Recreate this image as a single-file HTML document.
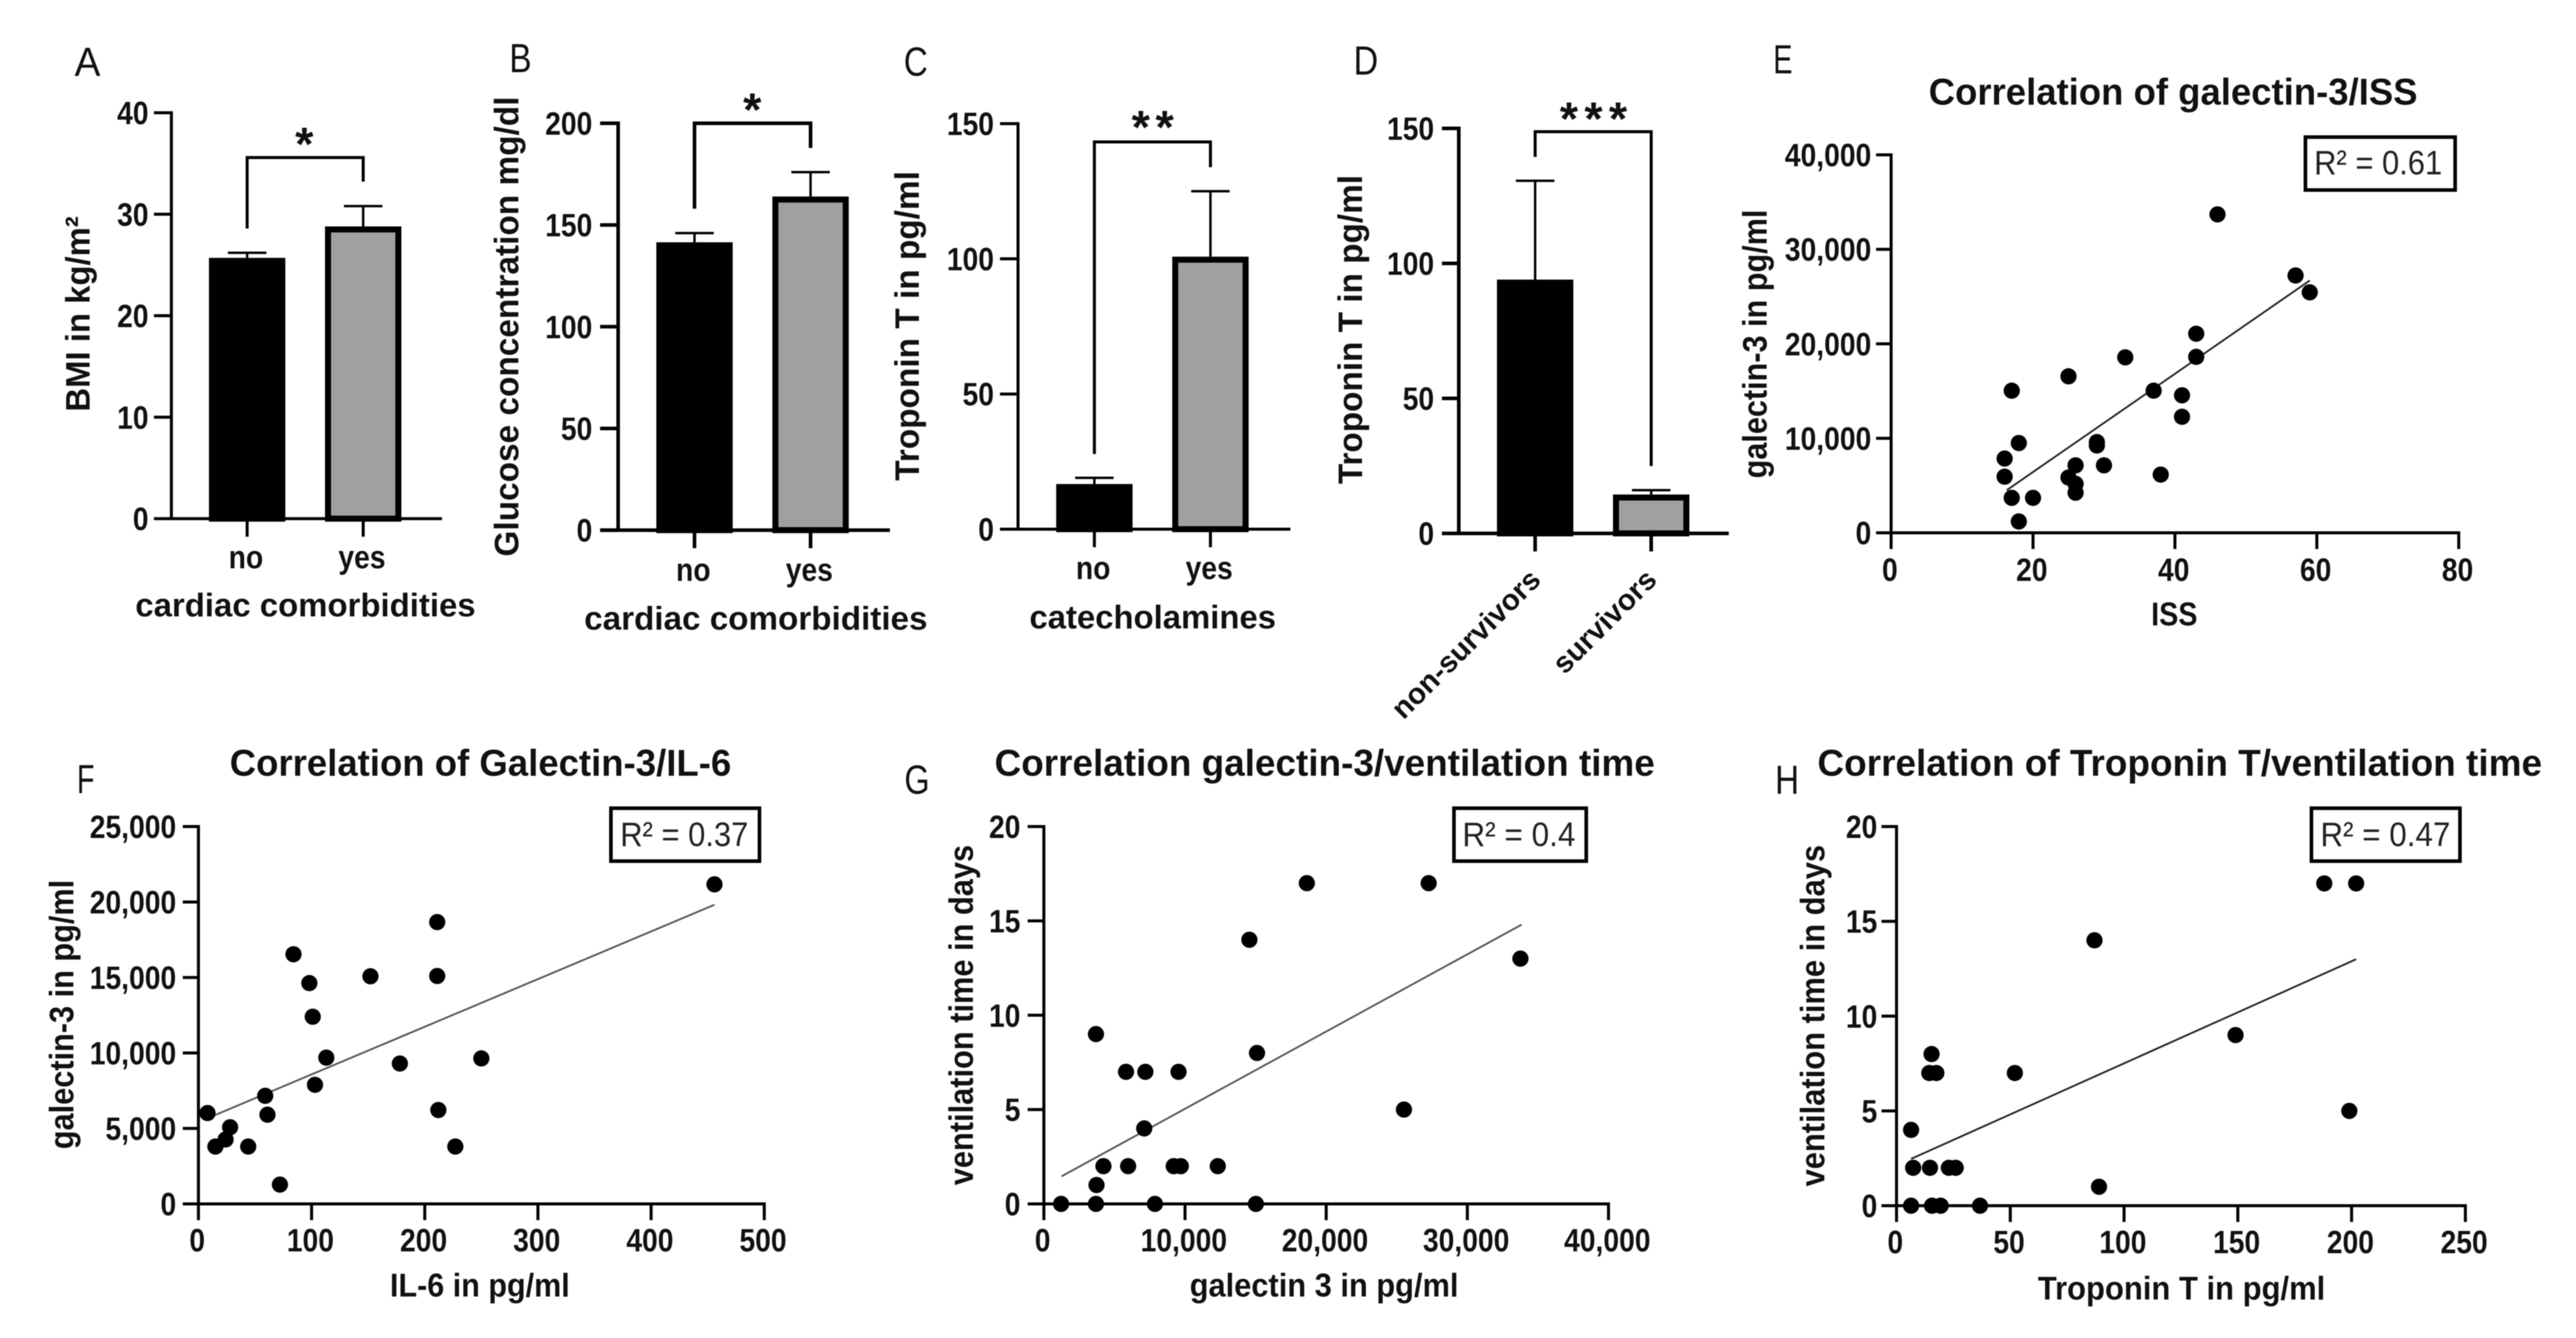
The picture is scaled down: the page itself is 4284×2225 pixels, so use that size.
<!DOCTYPE html>
<html lang="en">
<head>
<meta charset="utf-8">
<title>Galectin-3 and Troponin T figure</title>
<style>
html,body{margin:0;padding:0;background:#fff;}
svg{display:block;filter:blur(0.7px);}
text{font-family:"Liberation Sans",sans-serif;fill:#111;}
.letter{font-size:68px;font-weight:400;}
.ttl{font-size:62px;font-weight:700;}
.xt{font-size:55px;font-weight:700;}
.yt{font-size:57px;font-weight:700;}
.star{font-size:78px;font-weight:700;text-anchor:middle;}
.r2{font-size:57px;font-weight:400;fill:#222;}
.brk{fill:none;stroke:#000;stroke-width:5;}
.box{fill:#fff;stroke:#000;stroke-width:6;}
</style>
</head>
<body>
<svg id="figure" xmlns="http://www.w3.org/2000/svg" width="4284" height="2225" viewBox="0 0 4284 2225">
<rect width="4284" height="2225" fill="#fff"/>

<g id="panel-a">
  <text class="letter" x="124" y="126" textLength="43" lengthAdjust="spacingAndGlyphs">A</text>
  <text class="yt" transform="translate(149,522) rotate(-90)" text-anchor="middle" textLength="325" lengthAdjust="spacingAndGlyphs">BMI in kg/m²</text>
  <text class="xt" x="508" y="1025" text-anchor="middle" textLength="566" lengthAdjust="spacingAndGlyphs">cardiac comorbidities</text>
  <path class="brk" d="M411 380V262H604V302"/>
  <text class="star" x="506" y="266">*</text>
</g>

<g id="panel-b">
  <text class="letter" x="847" y="120" textLength="37" lengthAdjust="spacingAndGlyphs">B</text>
  <text class="yt" transform="translate(862,543) rotate(-90)" text-anchor="middle" textLength="765" lengthAdjust="spacingAndGlyphs">Glucose concentration mg/dl</text>
  <text class="xt" x="1257" y="1047" text-anchor="middle" textLength="571" lengthAdjust="spacingAndGlyphs">cardiac comorbidities</text>
  <path class="brk" style="stroke-width:6" d="M1155 347V205H1348V246"/>
  <text class="star" x="1251" y="209">*</text>
</g>

<g id="panel-c">
  <text class="letter" x="1503" y="126" textLength="40" lengthAdjust="spacingAndGlyphs">C</text>
  <text class="yt" transform="translate(1528,542) rotate(-90)" text-anchor="middle" textLength="515" lengthAdjust="spacingAndGlyphs">Troponin T in pg/ml</text>
  <text class="xt" x="1917" y="1045" text-anchor="middle" textLength="410" lengthAdjust="spacingAndGlyphs">catecholamines</text>
  <path class="brk" d="M1820 755V236H2013V278"/>
  <text class="star" x="1917" y="238" textLength="70">**</text>
</g>

<g id="panel-d">
  <text class="letter" x="2251" y="124" textLength="41" lengthAdjust="spacingAndGlyphs">D</text>
  <text class="yt" transform="translate(2265,548) rotate(-90)" text-anchor="middle" textLength="514" lengthAdjust="spacingAndGlyphs">Troponin T in pg/ml</text>
  <path class="brk" d="M2553 261V219H2746V775"/>
  <text class="star" x="2650" y="224" textLength="112">***</text>
</g>

<g id="panel-e">
  <text class="letter" x="2949" y="122" textLength="32" lengthAdjust="spacingAndGlyphs">E</text>
  <text class="ttl" x="3614" y="174" text-anchor="middle" textLength="813" lengthAdjust="spacingAndGlyphs">Correlation of galectin-3/ISS</text>
  <text class="yt" transform="translate(2938,572) rotate(-90)" text-anchor="middle" textLength="447" lengthAdjust="spacingAndGlyphs">galectin-3 in pg/ml</text>
  <text class="xt" x="3616" y="1040" text-anchor="middle" textLength="77" lengthAdjust="spacingAndGlyphs">ISS</text>
  <rect class="box" x="3834" y="228" width="249" height="88"/>
  <text class="r2" x="3955" y="290" text-anchor="middle" textLength="213" lengthAdjust="spacingAndGlyphs">R² = 0.61</text>
</g>

<g id="panel-f">
  <text class="letter" x="128" y="1319" textLength="29" lengthAdjust="spacingAndGlyphs">F</text>
  <text class="ttl" x="799" y="1290" text-anchor="middle" textLength="834" lengthAdjust="spacingAndGlyphs">Correlation of Galectin-3/IL-6</text>
  <text class="yt" transform="translate(122,1687) rotate(-90)" text-anchor="middle" textLength="448" lengthAdjust="spacingAndGlyphs">galectin-3 in pg/ml</text>
  <text class="xt" x="798" y="2156" text-anchor="middle" textLength="299" lengthAdjust="spacingAndGlyphs">IL-6 in pg/ml</text>
  <rect class="box" x="1016" y="1344" width="247" height="88"/>
  <text class="r2" x="1138" y="1407" text-anchor="middle" textLength="213" lengthAdjust="spacingAndGlyphs">R² = 0.37</text>
</g>

<g id="panel-g">
  <text class="letter" x="1504" y="1320" textLength="42" lengthAdjust="spacingAndGlyphs">G</text>
  <text class="ttl" x="2203" y="1290" text-anchor="middle" textLength="1098" lengthAdjust="spacingAndGlyphs">Correlation galectin-3/ventilation time</text>
  <text class="yt" transform="translate(1618,1688) rotate(-90)" text-anchor="middle" textLength="566" lengthAdjust="spacingAndGlyphs">ventilation time in days</text>
  <text class="xt" x="2202" y="2156" text-anchor="middle" textLength="447" lengthAdjust="spacingAndGlyphs">galectin 3 in pg/ml</text>
  <rect class="box" x="2418" y="1344" width="220" height="88"/>
  <text class="r2" x="2526" y="1407" text-anchor="middle" textLength="188" lengthAdjust="spacingAndGlyphs">R² = 0.4</text>
</g>

<g id="panel-h">
  <text class="letter" x="2952" y="1320" textLength="40" lengthAdjust="spacingAndGlyphs">H</text>
  <text class="ttl" x="3625" y="1290" text-anchor="middle" textLength="1205" lengthAdjust="spacingAndGlyphs">Correlation of Troponin T/ventilation time</text>
  <text class="yt" transform="translate(3034,1689) rotate(-90)" text-anchor="middle" textLength="568" lengthAdjust="spacingAndGlyphs">ventilation time in days</text>
  <text class="xt" x="3628" y="2161" text-anchor="middle" textLength="478" lengthAdjust="spacingAndGlyphs">Troponin T in pg/ml</text>
  <rect class="box" x="3844" y="1344" width="247" height="88"/>
  <text class="r2" x="3967" y="1407" text-anchor="middle" textLength="216" lengthAdjust="spacingAndGlyphs">R² = 0.47</text>
</g>
</svg>

<script>
/* ---------- Bar chart data ---------- */
const panelACategories = ['no', 'yes'];
const panelAMeans = [25.7, 28.8];
const panelAErrorTops = [26.2, 30.8];
const panelAYTicks = [0, 10, 20, 30, 40];

const panelBCategories = ['no', 'yes'];
const panelBMeans = [141.5, 164];
const panelBErrorTops = [146, 176];
const panelBYTicks = [0, 50, 100, 150, 200];

const panelCCategories = ['no', 'yes'];
const panelCMeans = [16.7, 100.8];
const panelCErrorTops = [19, 125];
const panelCYTicks = [0, 50, 100, 150];

const panelDCategories = ['non-survivors', 'survivors'];
const panelDMeans = [94, 14.4];
const panelDErrorTops = [130.6, 16];
const panelDYTicks = [0, 50, 100, 150];

/* ---------- Scatter chart data ---------- */
const panelEXValues = [46, 57, 59, 43, 43, 33, 25, 17, 37, 41, 41, 29, 29, 18, 16, 26, 30, 16, 25, 38, 26, 26, 17, 20, 18];
const panelEYValues = [33700, 27230, 25450, 21070, 18620, 18570, 16560, 15040, 15040, 14550, 12280, 9600, 9240, 9500, 7860, 7140, 7140, 5940, 5850, 6160, 5180, 4240, 3700, 3700, 1200];
const panelEFitX = [16.3, 59];
const panelEFitY = [4510, 26700];
const panelEXTicks = [0, 20, 40, 60, 80];
const panelEYTicks = [0, 10000, 20000, 30000, 40000];

const panelFXValues = [456, 211, 84, 211, 152, 98, 101, 113, 250, 178, 103, 59, 8, 61, 212, 28, 24, 15, 44, 227, 72];
const panelFYValues = [21170, 18670, 16540, 15100, 15080, 14630, 12400, 9690, 9640, 9300, 7890, 7160, 6020, 5910, 6220, 5080, 4270, 3800, 3800, 3800, 1280];
const panelFFitX = [13, 456];
const panelFFitY = [5830, 19820];
const panelFXTicks = [0, 100, 200, 300, 400, 500];
const panelFYTicks = [0, 5000, 10000, 15000, 20000, 25000];

const panelGXValues = [18630, 27260, 14560, 33760, 3690, 15100, 5820, 7190, 9540, 25510, 7110, 4220, 5970, 9200, 9700, 12320, 3730, 1220, 3690, 7870, 15020];
const panelGYValues = [17, 17, 14, 13, 9, 8, 7, 7, 7, 5, 4, 2, 2, 2, 2, 2, 1, 0, 0, 0, 0];
const panelGFitX = [1250, 33840];
const panelGFitY = [1.46, 14.8];
const panelGXTicks = [0, 10000, 20000, 30000, 40000];
const panelGYTicks = [0, 5, 10, 15, 20];

const panelHXValues = [188, 202, 87, 149, 15.4, 14.4, 17.5, 52, 199, 6.4, 7.3, 14.7, 23, 26, 89, 6.4, 15.6, 19.4, 36.7];
const panelHYValues = [17, 17, 14, 9, 8, 7, 7, 7, 5, 4, 2, 2, 2, 2, 1, 0, 0, 0, 0];
const panelHFitX = [6.4, 202];
const panelHFitY = [2.47, 13];
const panelHXTicks = [0, 50, 100, 150, 200, 250];
const panelHYTicks = [0, 5, 10, 15, 20];

/* ---------- Helpers ---------- */
const NS = 'http://www.w3.org/2000/svg';
function make(parent, tag, attrs, content) {
  const node = document.createElementNS(NS, tag);
  for (const key in attrs) node.setAttribute(key, attrs[key]);
  if (content !== undefined) node.textContent = content;
  parent.appendChild(node);
  return node;
}
function linear(d0, d1, r0, r1) {
  return function (v) { return r0 + (v - d0) / (d1 - d0) * (r1 - r0); };
}
function fmt(v) { return v.toLocaleString('en-US'); }
/* Keep the label's width at 47px metrics while drawing taller glyphs, as in the reference. */
function condense(label) {
  const width = label.getComputedTextLength();
  label.setAttribute('textLength', width);
  label.setAttribute('lengthAdjust', 'spacingAndGlyphs');
  label.setAttribute('font-size', 54);
}

function drawYAxis(group, frame, ticks, yScale) {
  const axis = make(group, 'line', {x1: frame.x0, x2: frame.x0, y1: yScale(ticks[ticks.length - 1]) - frame.sw / 2, y2: frame.y0 + frame.axisDrop, stroke: '#000', 'stroke-width': frame.sw});
  
  
  ticks.forEach(function (t) {
    const y = yScale(t);
    const mark = make(group, 'line', {x1: frame.tickLeft, x2: frame.x0, y1: y, y2: y, stroke: '#000', 'stroke-width': frame.sw});
    
    
    const label = make(group, 'text', {x: frame.yLabelRight, y: y + 19, 'text-anchor': 'end', 'font-size': 47, 'font-weight': 700}, fmt(t));
    
    
    condense(label);
  });
}

function drawBarPanel(id, frame, categories, means, errorTops, yTicks) {
  const group = document.getElementById(id);
  const yScale = linear(0, yTicks[yTicks.length - 1], frame.y0, frame.yTop);
  categories.forEach(function (cat, i) {
    const cx = frame.firstX + i * frame.step;
    const errTop = yScale(errorTops[i]);
    const barTop = yScale(means[i]);
    const whisker = make(group, 'line', {x1: cx, x2: cx, y1: barTop, y2: errTop, stroke: '#000', 'stroke-width': 4});
    
    
    const cap = make(group, 'line', {x1: cx - 32, x2: cx + 32, y1: errTop, y2: errTop, stroke: '#000', 'stroke-width': 4});
    
    
    const bar = make(group, 'rect', {x: cx - frame.barW / 2 + 5, y: barTop + 5, width: frame.barW - 10, height: Math.max(0, frame.y0 - barTop - 5), fill: i === 0 ? '#000' : '#a0a0a3', stroke: '#000', 'stroke-width': 10});
    
    
    const mark = make(group, 'line', {x1: cx, x2: cx, y1: frame.y0, y2: frame.y0 + 30, stroke: '#000', 'stroke-width': frame.sw});
    
    
    const attrs = frame.rotated
      ? {transform: 'translate(' + (cx + 12) + ',' + (frame.y0 + 80) + ') rotate(-45)', 'text-anchor': 'end', 'font-size': 49, 'font-weight': 700}
      : {x: cx - 2, y: frame.labelY, 'text-anchor': 'middle', 'font-size': 47, 'font-weight': 700};
    const label = make(group, 'text', attrs, cat);
    
    
    if (!frame.rotated) condense(label);
  });
  drawYAxis(group, frame, yTicks, yScale);
  const baseAxis = make(group, 'line', {x1: frame.tickLeft, x2: frame.xEnd, y1: frame.y0, y2: frame.y0, stroke: '#000', 'stroke-width': frame.sw});
  
  
}

function drawScatterPanel(id, frame, xs, ys, fitX, fitY, xTicks, yTicks) {
  const group = document.getElementById(id);
  const xScale = linear(0, xTicks[xTicks.length - 1], frame.x0, frame.xEnd);
  const yScale = linear(0, yTicks[yTicks.length - 1], frame.y0, frame.yTop);
  drawYAxis(group, frame, yTicks, yScale);
  const baseAxis = make(group, 'line', {x1: frame.tickLeft, x2: frame.xEnd + frame.sw / 2, y1: frame.y0, y2: frame.y0, stroke: '#000', 'stroke-width': frame.sw});
  
  
  xTicks.forEach(function (t) {
    const x = xScale(t);
    const mark = make(group, 'line', {x1: x, x2: x, y1: frame.y0, y2: frame.y0 + 27, stroke: '#000', 'stroke-width': frame.sw});
    
    
    const label = make(group, 'text', {x: x - 2, y: frame.labelY, 'text-anchor': 'middle', 'font-size': 47, 'font-weight': 700}, fmt(t));
    
    
    condense(label);
  });
  const fit = make(group, 'line', {x1: xScale(fitX[0]), y1: yScale(fitY[0]), x2: xScale(fitX[1]), y2: yScale(fitY[1]), stroke: frame.fitColor, 'stroke-width': 3});
  
  
  xs.forEach(function (xv, i) {
    const dot = make(group, 'circle', {cx: xScale(xv), cy: yScale(ys[i]), r: 13.5, fill: '#000'});
    
    
  });
}

/* ---------- Panels ---------- */
drawBarPanel('panel-a', {x0: 285, y0: 862.5, yTop: 187.5, tickLeft: 256, xEnd: 735, firstX: 411, step: 193, barW: 127, sw: 5, labelY: 945, yLabelRight: 247, axisDrop: 0}, panelACategories, panelAMeans, panelAErrorTops, panelAYTicks);
drawBarPanel('panel-b', {x0: 1028, y0: 881.6, yTop: 205, tickLeft: 998, xEnd: 1480, firstX: 1155, step: 193, barW: 127, sw: 6, labelY: 966, yLabelRight: 985, axisDrop: 0}, panelBCategories, panelBMeans, panelBErrorTops, panelBYTicks);
drawBarPanel('panel-c', {x0: 1693, y0: 880, yTop: 205.6, tickLeft: 1663, xEnd: 2146, firstX: 1820, step: 193, barW: 127, sw: 5, labelY: 963, yLabelRight: 1653, axisDrop: 0}, panelCCategories, panelCMeans, panelCErrorTops, panelCYTicks);
drawBarPanel('panel-d', {x0: 2426, y0: 887, yTop: 213.5, tickLeft: 2398, xEnd: 2875, firstX: 2553, step: 193, barW: 127, sw: 6, yLabelRight: 2385, axisDrop: 0, rotated: true}, panelDCategories, panelDMeans, panelDErrorTops, panelDYTicks);

drawScatterPanel('panel-e', {x0: 3145, y0: 886, yTop: 257.5, tickLeft: 3120, xEnd: 4089, sw: 5, labelY: 966, yLabelRight: 3112, axisDrop: 27, fitColor: '#222'}, panelEXValues, panelEYValues, panelEFitX, panelEFitY, panelEXTicks, panelEYTicks);
drawScatterPanel('panel-f', {x0: 330, y0: 2002, yTop: 1374.5, tickLeft: 304, xEnd: 1271, sw: 5, labelY: 2081, yLabelRight: 293, axisDrop: 24, fitColor: '#555'}, panelFXValues, panelFYValues, panelFFitX, panelFFitY, panelFXTicks, panelFYTicks);
drawScatterPanel('panel-g', {x0: 1736, y0: 2002, yTop: 1374.5, tickLeft: 1709, xEnd: 2675, sw: 5, labelY: 2081, yLabelRight: 1697, axisDrop: 24, fitColor: '#555'}, panelGXValues, panelGYValues, panelGFitX, panelGFitY, panelGXTicks, panelGYTicks);
drawScatterPanel('panel-h', {x0: 3154, y0: 2005, yTop: 1374.5, tickLeft: 3129, xEnd: 4100, sw: 5, labelY: 2084, yLabelRight: 3122, axisDrop: 24, fitColor: '#222'}, panelHXValues, panelHYValues, panelHFitX, panelHFitY, panelHXTicks, panelHYTicks);
</script>
</body>
</html>
